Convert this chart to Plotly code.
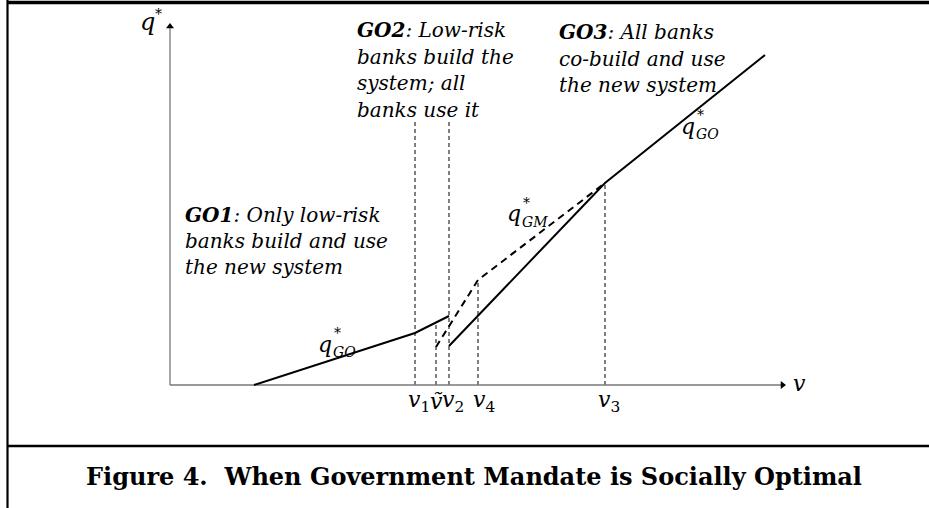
import plotly.graph_objects as go

W, H = 929, 508

# ---------------- data (conceptual units: v horizontal, q vertical) ----------------
tick_names = ["<i>v</i><sub>1</sub>", "<i>ṽ</i>", "<i>v</i><sub>2</sub>", "<i>v</i><sub>4</sub>", "<i>v</i><sub>3</sub>"]
tick_v = [24.5, 26.6, 27.9, 30.8, 43.5]
guide_top_q = [26.5, 6.25, 26.5, 10.5, 20.2]

go_low_v = [8.4, 24.5, 27.9]
go_low_q = [0.0, 5.2, 6.9]

go_high_v = [27.9, 43.5, 59.5]
go_high_q = [3.9, 20.2, 33.0]

gm_v = [26.6, 30.8, 43.5]
gm_q = [3.8, 10.5, 20.2]

axis_v_max = 61.6
axis_q_max = 36.2

go1_lines = ["<b><i>GO1</i></b><i>: Only low-risk</i>", "<i>banks build and use</i>", "<i>the new system</i>"]
go2_lines = ["<b><i>GO2</i></b><i>: Low-risk</i>", "<i>banks build the</i>", "<i>system; all</i>", "<i>banks use it</i>"]
go3_lines = ["<b><i>GO3</i></b><i>: All banks</i>", "<i>co-build and use</i>", "<i>the new system</i>"]
title_text = "<b>Figure 4.  When Government Mandate is Socially Optimal</b>"

# ---------------- figure ----------------
X_RANGE = [-17.0, 75.9]
Y_RANGE = [-12.3, 38.5]
SERIF = "DejaVu Serif"

fig = go.Figure()

# vertical guide lines
for v, qt in zip(tick_v, guide_top_q):
    fig.add_trace(go.Scatter(x=[v, v], y=[0, qt], mode="lines",
                             line=dict(color="black", width=1, dash="4px,3px"),
                             hoverinfo="skip", showlegend=False))

# axes
fig.add_trace(go.Scatter(x=[0, 0], y=[0, axis_q_max - 0.3], mode="lines",
                         line=dict(color="#777777", width=1.3), hoverinfo="skip", showlegend=False))
fig.add_trace(go.Scatter(x=[0, axis_v_max - 0.3], y=[0, 0], mode="lines",
                         line=dict(color="#777777", width=1.3), hoverinfo="skip", showlegend=False))
fig.add_trace(go.Scatter(x=[0], y=[axis_q_max - 0.35], mode="markers",
                         marker=dict(symbol="triangle-up", size=7, color="black"),
                         hoverinfo="skip", showlegend=False))
fig.add_trace(go.Scatter(x=[axis_v_max - 0.35], y=[0], mode="markers",
                         marker=dict(symbol="triangle-right", size=7, color="black"),
                         hoverinfo="skip", showlegend=False))

# curves
fig.add_trace(go.Scatter(x=go_low_v, y=go_low_q, mode="lines",
                         line=dict(color="black", width=2), hoverinfo="skip", showlegend=False))
fig.add_trace(go.Scatter(x=go_high_v, y=go_high_q, mode="lines",
                         line=dict(color="black", width=2), hoverinfo="skip", showlegend=False))
fig.add_trace(go.Scatter(x=gm_v, y=gm_q, mode="lines",
                         line=dict(color="black", width=2, dash="7px,5px"), hoverinfo="skip", showlegend=False))

ann = []


def px(x, y):
    return x / W, 1 - y / H


def text_px(x, y, text, size, xanchor="left", family=SERIF):
    xx, yy = px(x, y)
    ann.append(dict(x=xx, y=yy, xref="paper", yref="paper", text=text, showarrow=False,
                    xanchor=xanchor, yanchor="middle", font=dict(family=family, size=size, color="black")))


# tick labels
tick_shift = [4, 0, 4, 6, 4]
for name, v, sh in zip(tick_names, tick_v, tick_shift):
    ann.append(dict(x=v, y=-1.6, xref="x", yref="y", text=name, showarrow=False, xshift=sh,
                    xanchor="center", yanchor="middle", font=dict(family=SERIF, size=22, color="black")))

# axis titles
text_px(147, 22, "<i>q</i>", 24, xanchor="center")
text_px(158, 14, "*", 14, xanchor="center")
text_px(799, 383, "<i>v</i>", 22, xanchor="center")


def qlabel(cx, by, sub):
    text_px(cx, by - 6, "<i>q</i>", 22, xanchor="center")
    text_px(cx + 12, by - 17, "*", 14, xanchor="center")
    text_px(cx + 6, by + 2, "<i>" + sub + "</i>", 14, xanchor="left")


qlabel(325, 350, "GO")
qlabel(514, 220, "GM")
qlabel(688, 132, "GO")

# region descriptions
for i, t in enumerate(go1_lines):
    text_px(183, 215 + 26 * i, t, 20)
for i, t in enumerate(go2_lines):
    text_px(355, 30 + 26.7 * i, t, 20)
for i, t in enumerate(go3_lines):
    text_px(557, 32 + 26.5 * i, t, 20)

# caption
text_px(474, 476, title_text, 24, xanchor="center")

# frame
shapes = [
    dict(type="line", xref="paper", yref="paper", x0=7 / W, x1=1, y0=1 - 2.5 / H, y1=1 - 2.5 / H,
         line=dict(color="black", width=3.5)),
    dict(type="line", xref="paper", yref="paper", x0=7.5 / W, x1=7.5 / W, y0=0, y1=1,
         line=dict(color="black", width=2.2)),
    dict(type="line", xref="paper", yref="paper", x0=7 / W, x1=1, y0=1 - 446 / H, y1=1 - 446 / H,
         line=dict(color="black", width=2.5)),
]

fig.update_layout(
    width=W, height=H, margin=dict(l=0, r=0, t=0, b=0),
    paper_bgcolor="white", plot_bgcolor="white",
    xaxis=dict(range=X_RANGE, visible=False, fixedrange=True),
    yaxis=dict(range=Y_RANGE, visible=False, fixedrange=True),
    annotations=ann, shapes=shapes, showlegend=False,
)

fig.write_html("out.html")
